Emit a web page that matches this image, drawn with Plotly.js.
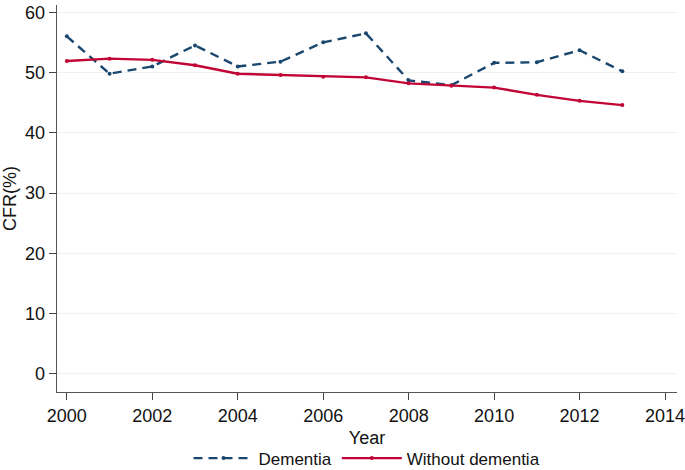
<!DOCTYPE html>
<html><head><meta charset="utf-8">
<script src="https://cdn.plot.ly/plotly-3.0.1.min.js"></script>
<style>html,body{margin:0;padding:0;background:#fff}#chart{width:685px;height:470px}</style>
</head><body><div id="chart"></div>
<script>
const years = [2000,2001,2002,2003,2004,2005,2006,2007,2008,2009,2010,2011,2012,2013];
const dementia = [56.0,49.8,51.0,54.5,51.0,51.8,55.0,56.5,48.7,47.9,51.6,51.7,53.7,50.2];
const withoutDementia = [51.9,52.3,52.1,51.2,49.8,49.6,49.3,49.2,48.2,47.8,47.5,46.3,45.3,44.6];
const xTicks = [2000,2002,2004,2006,2008,2010,2012,2014];
const yTicks = [0,10,20,30,40,50,60];

const traces = [
  {x: years, y: dementia, name: 'Dementia', type: 'scatter', mode: 'lines+markers',
   line: {color: '#1a476f', width: 2.4, dash: '9px,6px'}, marker: {color: '#1a476f', size: 4}},
  {x: years, y: withoutDementia, name: 'Without dementia', type: 'scatter', mode: 'lines+markers',
   line: {color: '#c10534', width: 2.4}, marker: {color: '#c10534', size: 4}}
];
const layout = {
  width: 685, height: 470,
  margin: {l: 57, r: 8, t: 5, b: 78, autoexpand: false},
  paper_bgcolor: '#fff', plot_bgcolor: '#fff',
  font: {family: 'Liberation Sans, Arial, sans-serif', size: 18, color: '#111'},
  xaxis: {range: [1999.77, 2014.28], tickvals: xTicks, ticks: 'outside', ticklen: 7, tickcolor: '#444',
    showline: true, linecolor: '#555', linewidth: 1.3, showgrid: false, zeroline: false, automargin: false,
    ticklabeloverflow: 'allow', tickfont: {size: 18}, title: {text: 'Year', standoff: 6, font: {size: 18}}},
  yaxis: {range: [-3, 61.2], tickvals: yTicks, ticks: 'outside', ticklen: 7, tickcolor: '#444',
    showline: true, linecolor: '#555', linewidth: 1.3, showgrid: true, gridcolor: '#eef2f3', gridwidth: 1,
    zeroline: false, automargin: false, tickfont: {size: 18},
    title: {text: 'CFR(%)', standoff: 6, font: {size: 18}}},
  legend: {orientation: 'h', x: 0.5, xanchor: 'center', y: -0.172, yanchor: 'middle',
    font: {size: 17}, itemwidth: 60, traceorder: 'normal', tracegroupgap: 0},
  showlegend: true
};
Plotly.newPlot('chart', traces, layout, {staticPlot: true});
</script></body></html>
